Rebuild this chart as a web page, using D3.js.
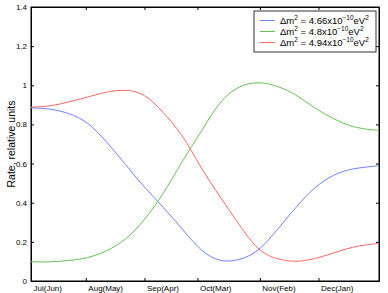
<!DOCTYPE html>
<html>
<head>
<meta charset="utf-8">
<script src="https://d3js.org/d3.v7.min.js"></script>
<style>
  body { margin: 0; background: #fff; }
  svg { font-family: "Liberation Sans", Arial, sans-serif; }
  .curve { fill: none; stroke-width: 1; }
</style>
</head>
<body>
<svg width="388" height="293"></svg>
<script>
// days since 1 July
var days = [0, 10, 20, 30, 40, 50, 60, 70, 80, 90, 100, 110, 120, 130, 140, 150, 160, 170, 180, 184];

var blue  = [0.885, 0.878, 0.855, 0.805, 0.71, 0.595, 0.48, 0.375, 0.265, 0.16, 0.106, 0.11, 0.158, 0.26, 0.375, 0.475, 0.54, 0.572, 0.585, 0.59];
var green = [0.098, 0.098, 0.105, 0.12, 0.155, 0.215, 0.315, 0.45, 0.61, 0.765, 0.91, 0.99, 1.013, 0.995, 0.95, 0.885, 0.83, 0.79, 0.773, 0.77];
var red   = [0.888, 0.895, 0.915, 0.94, 0.965, 0.974, 0.947, 0.86, 0.74, 0.58, 0.43, 0.29, 0.168, 0.115, 0.101, 0.115, 0.143, 0.172, 0.188, 0.193];

var monthTicks = [0, 29, 60, 88, 121, 152];
var monthLabels = ["Jul(Jun)", "Aug(May)", "Sep(Apr)", "Oct(Mar)", "Nov(Feb)", "Dec(Jan)"];
var yTicks = [0, 0.2, 0.4, 0.6, 0.8, 1, 1.2, 1.4];

var legendMass = ["4.66", "4.8", "4.94"];

var colors = ["#7080ff", "#66c255", "#ff6666"];
var series = [blue, green, red];

var svg = d3.select("svg"),
    margin = {top: 7, right: 9, bottom: 12, left: 31},
    width = +svg.attr("width") - margin.left - margin.right,
    height = +svg.attr("height") - margin.top - margin.bottom;

var x = d3.scaleLinear().domain([0, 184]).range([0, width]),
    y = d3.scaleLinear().domain([0, 1.4]).range([height, 0]);

var g = svg.append("g")
    .attr("transform", "translate(" + margin.left + "," + margin.top + ")");

// inward ticks, matlab style
var xAxis = d3.axisBottom(x).tickValues(monthTicks).tickSizeInner(-3).tickSizeOuter(0).tickFormat("");
var yAxis = d3.axisLeft(y).tickValues(yTicks).tickSizeInner(-3).tickSizeOuter(0).tickFormat("");

g.append("g").attr("transform", "translate(0," + height + ")").call(xAxis);
g.append("g").call(d3.axisTop(x).tickValues(monthTicks).tickSizeInner(-3).tickSizeOuter(0).tickFormat(""));
g.append("g").call(yAxis);
g.append("g").attr("transform", "translate(" + width + ",0)")
    .call(d3.axisRight(y).tickValues(yTicks).tickSizeInner(-3).tickSizeOuter(0).tickFormat(""));

g.selectAll(".domain").attr("stroke", "#000");
g.selectAll(".tick line").attr("stroke", "#000");

g.append("rect")
    .attr("width", width).attr("height", height)
    .attr("fill", "none").attr("stroke", "#000").attr("stroke-width", 1);

// tick labels
g.selectAll(".xlab")
  .data(monthTicks)
  .enter().append("text")
    .attr("class", "xlab")
    .attr("x", function(d) { return x(d) + 2.5; })
    .attr("y", height + 10)
    .attr("font-size", 8)
    .text(function(d, i) { return monthLabels[i]; });

g.selectAll(".ylab")
  .data(yTicks)
  .enter().append("text")
    .attr("class", "ylab")
    .attr("x", -4)
    .attr("y", function(d) { return y(d) + 3; })
    .attr("font-size", 8)
    .attr("text-anchor", "end")
    .text(function(d) { return d; });

svg.append("text")
    .attr("transform", "translate(14.5,144) rotate(-90)")
    .attr("text-anchor", "middle")
    .attr("font-size", 10.5)
    .text("Rate, relative units");

var line = d3.line()
    .x(function(d, i) { return x(days[i]); })
    .y(function(d) { return y(d); })
    .curve(d3.curveNatural);

g.selectAll(".curve")
  .data(series)
  .enter().append("path")
    .attr("class", "curve")
    .attr("stroke", function(d, i) { return colors[i]; })
    .attr("d", line);

// legend
var lg = svg.append("g").attr("transform", "translate(254,11)");
lg.append("rect")
    .attr("width", 122).attr("height", 41)
    .attr("fill", "#fff").attr("stroke", "#333").attr("stroke-width", 1);

legendMass.forEach(function(m, i) {
  var row = lg.append("g").attr("transform", "translate(0," + (9.5 + i * 11) + ")");
  row.append("line").attr("x1", 6).attr("x2", 21).attr("y1", 0).attr("y2", 0)
     .attr("stroke", colors[i]);
  var t = row.append("text").attr("x", 26).attr("y", 3.5).attr("font-size", 9.5);
  t.append("tspan").text("\u0394m");
  t.append("tspan").attr("font-size", 6.5).attr("dy", -4).text("2");
  t.append("tspan").attr("dy", 4).text(" = " + m + "x10");
  t.append("tspan").attr("font-size", 6.5).attr("dy", -4).text("\u221210");
  t.append("tspan").attr("dy", 4).text("eV");
  t.append("tspan").attr("font-size", 6.5).attr("dy", -4).text("2");
});
</script>
</body>
</html>
